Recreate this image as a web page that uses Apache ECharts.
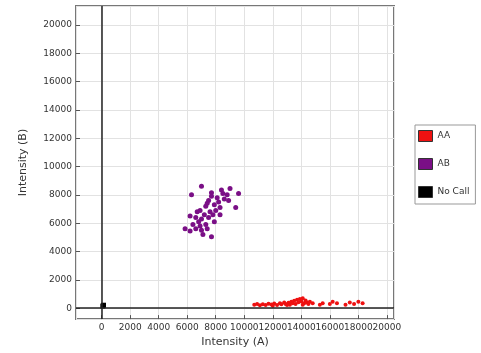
<!DOCTYPE html>
<html><head><meta charset="utf-8">
<script src="https://cdn.jsdelivr.net/npm/echarts@6/dist/echarts.min.js"></script>
<style>html,body{margin:0;padding:0;background:#fff}#c{width:481px;height:353px}</style>
</head><body><div id="c"></div>
<script>
var seriesNames = ['AA', 'AB', 'No Call'];
var aaPoints = [[10700,250],[10900,300],[11100,200],[11300,280],[11500,230],[11700,310],[11900,260],[12100,330],[12300,220],[12500,350],[12600,280],[12800,400],[12900,300],[13100,380],[13200,250],[13300,450],[13400,350],[13500,520],[13600,300],[13700,600],[13800,420],[13900,650],[14000,480],[14100,700],[14200,350],[14300,550],[14400,400],[14500,300],[14600,450],[14800,350],[15300,250],[15500,350],[16000,300],[16200,450],[16500,350],[17100,250],[17400,400],[17700,300],[18000,450],[18300,350],[12000,180],[13000,220],[14100,250]];
var abPoints = [[7000,8600],[6300,8000],[7700,8150],[8400,8350],[9000,8450],[9600,8100],[9400,7100],[6200,6500],[5850,5600],[6200,5450],[7700,5050],[7100,5200],[8800,8000],[8600,7700],[8200,7500],[8900,7600],[7500,7600],[7300,7200],[7900,7300],[8300,7100],[8000,6900],[7600,6800],[7200,6600],[6900,6900],[7000,6300],[7500,6400],[7800,6600],[6800,6100],[6600,6400],[6900,5800],[7300,5900],[7000,5500],[6600,5600],[7400,5600],[8100,7800],[8500,8100],[7700,7900],[7400,7400],[6700,6800],[8300,6600],[7900,6100],[6400,5900]];
var noCallPoints = [[130,210],[80,150]];
var xRange = [-1800, 20500];
var yRange = [-770, 21330];
var tickStep = 2000;
var zeroLines = [0];
var xTitle = 'Intensity (A)';
var yTitle = 'Intensity (B)';

var colors = ['#ee1111', '#7a0f86', '#000000'];
var font = 'DejaVu Sans';
var chart = echarts.init(document.getElementById('c'));
var plainNum = function (v) { return String(v); };
var axisCommon = {
  type: 'value',
  minInterval: tickStep, maxInterval: tickStep,
  axisLine: {show: false, onZero: false},
  axisTick: {show: true, inside: true, length: 4, lineStyle: {color: '#555'}},
  axisLabel: {fontFamily: font, fontSize: 9, color: '#333', showMinLabel: false, showMaxLabel: false, formatter: plainNum, margin: 4},
  splitLine: {show: true, lineStyle: {color: '#e2e2e2', width: 1}},
  nameTextStyle: {fontFamily: font, fontSize: 11, color: '#333'}
};
chart.setOption({
  animation: false,
  color: colors,
  grid: {left: 76, right: 87, top: 6, bottom: 32, show: true, borderColor: '#777', borderWidth: 2, backgroundColor: '#fff'},
  xAxis: Object.assign({}, axisCommon, {min: xRange[0], max: xRange[1], name: xTitle, nameLocation: 'middle', nameGap: 17}),
  yAxis: Object.assign({}, axisCommon, {min: yRange[0], max: yRange[1], name: yTitle, nameLocation: 'middle', nameGap: 47}),
  legend: {
    orient: 'vertical', left: 415, top: 125, width: 56,
    data: seriesNames.map(function (n) { return {name: n, icon: 'rect'}; }),
    itemWidth: 14, itemHeight: 11, itemGap: 16,
    padding: [5, 6, 6, 3],
    borderColor: '#999', borderWidth: 1,
    itemStyle: {borderColor: '#333', borderWidth: 1, opacity: 1},
    textStyle: {fontFamily: font, fontSize: 9, color: '#333'}
  },
  series: [
    {name: seriesNames[0], type: 'scatter', data: aaPoints, symbol: 'circle', symbolSize: 4, itemStyle: {color: colors[0], opacity: 1},
      markLine: {silent: true, symbol: 'none', label: {show: false}, lineStyle: {color: '#222', type: 'solid', width: 1.5},
        data: zeroLines.map(function (v) { return {xAxis: v}; }).concat(zeroLines.map(function (v) { return {yAxis: v}; }))}},
    {name: seriesNames[1], type: 'scatter', data: abPoints, symbol: 'circle', symbolSize: 5, itemStyle: {color: colors[1], opacity: 1}},
    {name: seriesNames[2], type: 'scatter', data: noCallPoints, symbol: 'rect', symbolSize: 5, itemStyle: {color: colors[2], opacity: 1}}
  ]
});
</script></body></html>
